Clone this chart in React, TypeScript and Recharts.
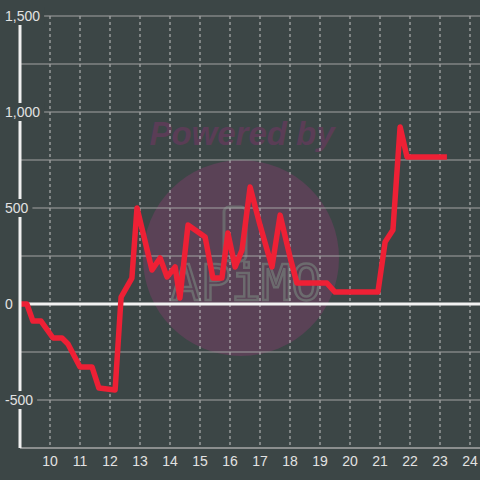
import { CartesianGrid, Line, LineChart, ReferenceLine, XAxis, YAxis } from "recharts";

const hours = [
  9, 9.23, 9.43, 9.7, 10.1, 10.4, 10.6, 11.0, 11.4, 11.63, 12.17, 12.37, 12.73,
  12.9, 13.4, 13.67, 13.9, 14.17, 14.33, 14.6, 15.17, 15.43, 15.73, 15.93,
  16.17, 16.4, 16.67, 17.0, 17.4, 17.67, 18.0, 18.23, 19.23, 19.5, 20.93,
  21.17, 21.43, 21.67, 21.9, 23.23,
];
const balance = [
  0, 0, -89, -89, -177, -177, -208, -328, -328, -438, -448, 36, 135, 500, 177,
  240, 141, 193, 31, 411, 349, 135, 135, 370, 193, 281, 609, 411, 193, 463,
  245, 109, 109, 62, 62, 323, 385, 922, 766, 766,
];
const xTicks = [10, 11, 12, 13, 14, 15, 16, 17, 18, 19, 20, 21, 22, 23, 24];
const yTicks = [-750, -500, -250, 0, 250, 500, 750, 1000, 1250, 1500];
const yLabels = [-500, 0, 500, 1000, 1500];

const data = hours.map((h, i) => ({ h, v: balance[i] }));

const BG = "#3c4646";
const FONT = "'Liberation Sans', Arial, sans-serif";

// rough text width so the label box hides the lines behind it
function textWidth(s: string) {
  let w = 0;
  for (const c of s) w += c === "," ? 3.9 : c === "-" ? 4.7 : 7.8;
  return w;
}

function YTick(props: any) {
  const { y, payload } = props;
  if (!yLabels.includes(payload.value)) return <g />;
  const label = payload.value.toLocaleString("en-US");
  const w = textWidth(label);
  return (
    <g>
      <rect x={2} y={y - 9} width={w + 7} height={18} fill={BG} />
      <text x={5} y={y} dy="0.35em" fill="#e2e2e2" fontSize={14} fontFamily={FONT}>
        {label}
      </text>
    </g>
  );
}

function Watermark() {
  return (
    <svg width={480} height={480} style={{ position: "absolute", left: 0, top: 0 }}>
      <text
        x={242}
        y={145}
        textAnchor="middle"
        fontSize={33}
        fontWeight="bold"
        fontStyle="italic"
        fontFamily={FONT}
        fill="#5a3d56"
      >
        Powered by
      </text>
      <circle cx={241} cy={258} r={98} fill="#5a4256" />
      <rect x={224} y={207} width={22} height={54} rx={5} fill="none" stroke="#6a686c" strokeWidth={3} />
      <text
        x={246}
        y={300}
        textAnchor="middle"
        fontSize={50}
        fontFamily="'DejaVu Sans Mono', monospace"
        fill="none"
        stroke="#6c6b6e"
        strokeWidth={2.5}
      >
        APiMO
      </text>
    </svg>
  );
}

export default function App() {
  return (
    <div style={{ position: "absolute", left: 0, top: 0, width: 480, height: 480, background: BG }}>
      <Watermark />
      <div style={{ position: "absolute", left: 0, top: 0 }}>
        <LineChart width={480} height={480} data={data} margin={{ top: 16, right: 0, bottom: 0, left: 0 }}>
          <CartesianGrid horizontal={false} verticalValues={xTicks} stroke="#c4c4c4" strokeDasharray="3 3" />
          <CartesianGrid vertical={false} horizontalValues={yTicks} stroke="#a2a2a2" />
          <XAxis
            dataKey="h"
            type="number"
            domain={[9, 24.333]}
            allowDataOverflow
            ticks={xTicks}
            height={32}
            tickLine={false}
            tickSize={0}
            tickMargin={8}
            axisLine={{ stroke: "#a8a8a8" }}
            tick={{ fill: "#e2e2e2", fontSize: 14, fontFamily: FONT }}
          />
          <YAxis
            type="number"
            domain={[-750, 1500]}
            ticks={yTicks}
            width={20}
            tickLine={false}
            axisLine={{ stroke: "#f0f0f0", strokeWidth: 3 }}
            tick={<YTick />}
          />
          <ReferenceLine y={0} stroke="#f2f2f2" strokeWidth={3} />
          <Line
            type="linear"
            dataKey="v"
            stroke="#ee2035"
            strokeWidth={5.5}
            strokeLinejoin="round"
            dot={false}
            isAnimationActive={false}
          />
        </LineChart>
      </div>
    </div>
  );
}
